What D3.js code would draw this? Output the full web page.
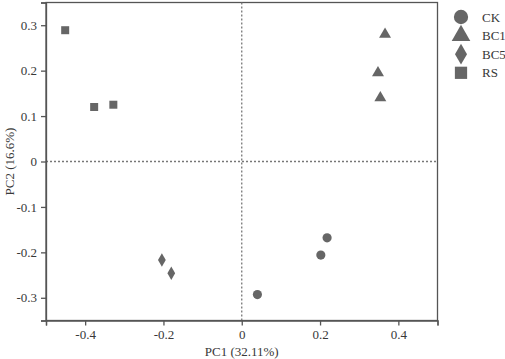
<!DOCTYPE html>
<html>
<head>
<meta charset="utf-8">
<script src="https://cdn.jsdelivr.net/npm/d3@7"></script>
<style>
  body { margin: 0; background: #fff; }
  text { font-family: "Liberation Serif", "Times New Roman", serif; fill: #383838; }
</style>
</head>
<body>
<div id="chart"></div>
<script>
// PCA scores
var groups = ["CK", "BC1", "BC5", "RS"];
var ck_pts  = [[0.218, -0.168], [0.202, -0.206], [0.040, -0.293]];
var bc1_pts = [[0.366, 0.280], [0.348, 0.195], [0.354, 0.140]];
var bc5_pts = [[-0.204, -0.217], [-0.180, -0.246]];
var rs_pts  = [[-0.451, 0.289], [-0.377, 0.120], [-0.328, 0.125]];
var x_ticks = [-0.5, -0.4, -0.2, 0, 0.2, 0.4, 0.5];
var y_ticks = [-0.35, -0.3, -0.2, -0.1, 0, 0.1, 0.2, 0.3, 0.35];

var svg = d3.select("#chart")
    .append("svg")
    .attr("width", 505)
    .attr("height", 359)

var x = d3.scaleLinear()
    .domain([-0.5, 0.5])
    .range([46, 437.5]);
var y = d3.scaleLinear()
    .domain([-0.35, 0.35])
    .range([320.5, 2.5]);

// plain hyphen for negatives, end ticks unlabelled
var fmt = function(d) {
    if (Math.abs(d) == 0.5 || Math.abs(d) == 0.35) return "";
    return d == 0 ? "0" : d.toFixed(1);
}

// frame
svg.append("rect")
    .attr("x", x(-0.5))
    .attr("y", y(0.35))
    .attr("width", x(0.5) - x(-0.5))
    .attr("height", y(-0.35) - y(0.35))
    .attr("fill", "none")
    .attr("stroke", "#555")
    .attr("stroke-width", 1.3)

// zero lines
svg.append("line")
    .attr("x1", x(0)).attr("x2", x(0))
    .attr("y1", y(0.35)).attr("y2", y(-0.35))
    .attr("stroke", "#777")
    .attr("stroke-width", 1.3)
    .attr("stroke-dasharray", "2,2")
svg.append("line")
    .attr("x1", x(-0.5)).attr("x2", x(0.5))
    .attr("y1", y(0)).attr("y2", y(0))
    .attr("stroke", "#777")
    .attr("stroke-width", 1.3)
    .attr("stroke-dasharray", "2,2")

var xAxis = svg.append("g")
    .attr("transform", "translate(0," + y(-0.35) + ")")
    .call(d3.axisBottom(x).tickValues(x_ticks).tickFormat(fmt).tickSize(5).tickPadding(4));
var yAxis = svg.append("g")
    .attr("transform", "translate(" + x(-0.5) + ",0)")
    .call(d3.axisLeft(y).tickValues(y_ticks).tickFormat(fmt).tickSize(5).tickPadding(4));

[xAxis, yAxis].forEach(function(a) {
    a.select(".domain").attr("stroke", "#555").attr("stroke-width", 1.3);
    a.selectAll(".tick line").attr("stroke", "#555").attr("stroke-width", 1.3);
    a.selectAll(".tick text")
        .style("font-family", "Liberation Serif")
        .style("font-size", "13px")
        .attr("fill", "#383838");
});

// points
var shapes = [d3.symbolCircle, d3.symbolTriangle, d3.symbolDiamond, d3.symbolSquare];
var sizes = [66, 62, 52, 64];
var series = [ck_pts, bc1_pts, bc5_pts, rs_pts];

series.forEach(function(pts, i) {
    svg.append("g")
        .selectAll("path")
        .data(pts)
        .enter()
        .append("path")
        .attr("transform", function(d) { return "translate(" + x(d[0]) + "," + y(d[1]) + ")"; })
        .attr("d", d3.symbol().type(shapes[i]).size(sizes[i]))
        .attr("fill", "#666")
});

// legend
var legend = svg.append("g")
    .attr("transform", "translate(461,17)")
groups.forEach(function(g, i) {
    legend.append("path")
        .attr("transform", "translate(0," + (i * 18.6) + ")")
        .attr("d", d3.symbol().type(shapes[i]).size([160, 150, 125, 150][i]))
        .attr("fill", "#666")
    legend.append("text")
        .attr("x", 21)
        .attr("y", i * 18.6)
        .attr("dy", "0.35em")
        .style("font-size", "13px")
        .text(g)
});

svg.append("text")
    .attr("text-anchor", "middle")
    .attr("x", x(0))
    .attr("y", 356)
    .style("font-size", "13px")
    .text("PC1 (32.11%)");

svg.append("text")
    .attr("text-anchor", "middle")
    .attr("transform", "translate(14," + y(0) + ") rotate(-90)")
    .style("font-size", "13px")
    .text("PC2 (16.6%)");
</script>
</body>
</html>
